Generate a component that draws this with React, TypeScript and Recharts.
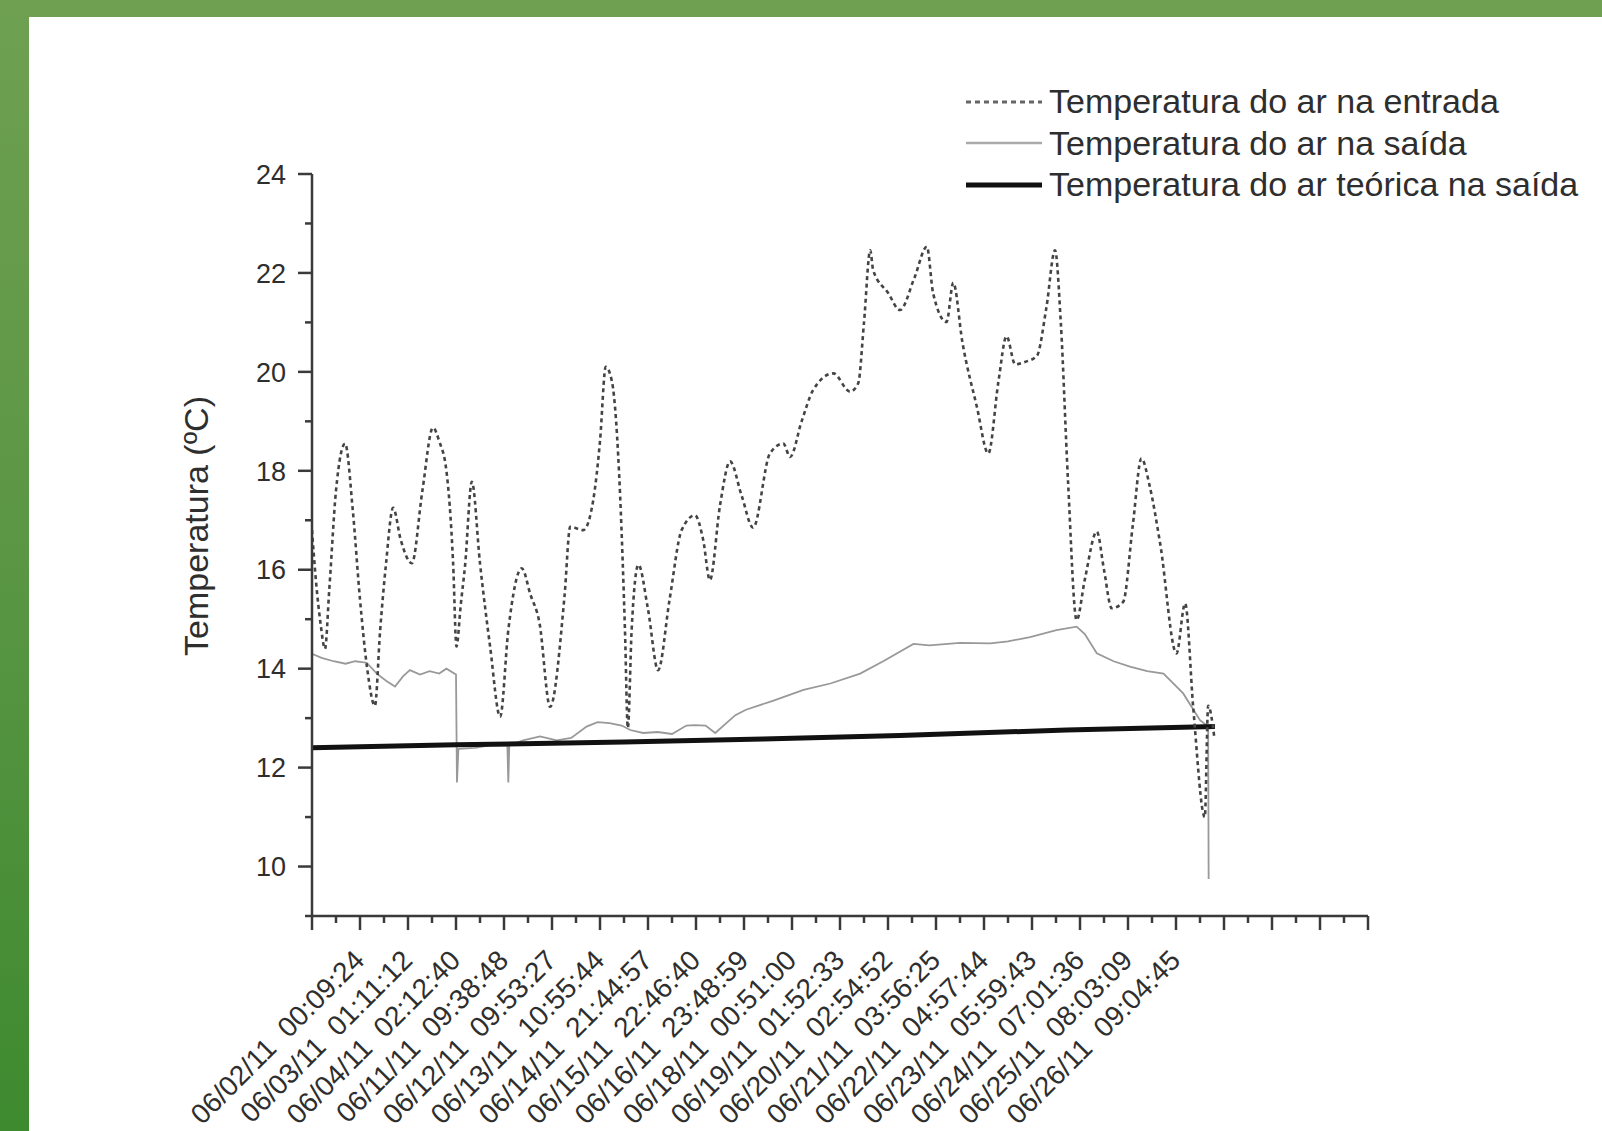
import React from "react"
import { LineChart, Line, XAxis, YAxis, Legend } from "recharts"

// sample position on the x axis (one unit = one labelled tick) and temperature in ºC
const entradaX = [
  0, 0.08, 0.18, 0.27, 0.36, 0.5, 0.69, 0.85, 1.0, 1.15, 1.31, 1.42, 1.54, 1.69, 1.85, 2.08, 2.3, 2.52, 2.65,
  2.8, 2.94, 3.01, 3.1, 3.19, 3.33, 3.5, 3.71, 3.92, 4.09, 4.37, 4.55, 4.74, 4.96, 5.26, 5.38, 5.65, 5.86, 6.0,
  6.12, 6.25, 6.42, 6.52, 6.58, 6.66, 6.8, 7.0, 7.21, 7.45, 7.7, 7.98, 8.15, 8.29, 8.5, 8.71, 8.95, 9.19, 9.54,
  9.82, 9.96, 10.2, 10.44, 10.86, 11.21, 11.38, 11.5, 11.63, 11.69, 12.0, 12.25, 12.55, 12.81, 12.94, 13.22,
  13.36, 13.55, 13.85, 14.09, 14.3, 14.47, 14.65, 14.85, 15.1, 15.3, 15.48, 15.6, 15.75, 15.93, 16.1, 16.35,
  16.5, 16.66, 16.9, 17.1, 17.28, 17.45, 17.67, 18.01, 18.19, 18.36, 18.6, 18.67, 18.8,
]
const entradaT = [
  16.8, 15.8, 14.9, 14.4, 15.6, 17.6, 18.55, 17.2, 15.4, 14.0, 13.25, 14.78, 16.1, 17.25, 16.6, 16.13, 17.6,
  18.87, 18.6, 18.0, 16.13, 14.45, 15.3, 16.1, 17.78, 16.13, 14.45, 13.03, 14.78, 16.03, 15.5, 14.92, 13.23,
  15.46, 16.87, 16.8, 17.41, 18.6, 20.1, 19.8, 17.48, 14.78, 12.8, 14.8, 16.1, 15.2, 13.97, 15.4, 16.8, 17.1,
  16.6, 15.79, 17.3, 18.19, 17.5, 16.85, 18.35, 18.55, 18.28, 19.0, 19.63, 19.97, 19.6, 19.77, 21.0, 22.46,
  22.06, 21.6, 21.25, 21.9, 22.53, 21.59, 21.01, 21.8, 20.6, 19.3, 18.35, 19.8, 20.72, 20.15, 20.2, 20.32,
  21.3, 22.46, 21.0, 17.8, 14.98, 15.8, 16.77, 16.0, 15.22, 15.35, 16.9, 18.25, 17.7, 16.53, 14.31, 15.32,
  13.2, 11.0, 13.25, 12.6,
]

const saidaX = [
  0, 0.2, 0.45, 0.7, 0.9, 1.14, 1.35, 1.55, 1.73, 1.9, 2.04, 2.25, 2.45, 2.65, 2.8, 3.0, 3.02, 3.05, 3.4, 3.7,
  4.07, 4.09, 4.11, 4.4, 4.75, 5.1, 5.4, 5.72, 5.95, 6.2, 6.45, 6.63, 6.9, 7.2, 7.5, 7.8, 7.97, 8.2, 8.4, 8.82,
  9.04, 9.6, 10.24, 10.8, 11.42, 11.9, 12.53, 12.86, 13.5, 14.13, 14.5, 14.96, 15.51, 15.93, 16.1, 16.35,
  16.7, 17.04, 17.4, 17.74, 18.15, 18.5, 18.67, 18.68,
]
const saidaT = [
  14.3, 14.22, 14.15, 14.1, 14.15, 14.12, 13.9, 13.75, 13.64, 13.85, 13.97, 13.88, 13.95, 13.9, 14.0, 13.88,
  11.7, 12.38, 12.4, 12.45, 12.45, 11.7, 12.45, 12.55, 12.63, 12.55, 12.6, 12.83, 12.92, 12.9, 12.85, 12.76,
  12.7, 12.72, 12.68, 12.85, 12.86, 12.85, 12.7, 13.06, 13.17, 13.35, 13.57, 13.7, 13.9, 14.15, 14.5, 14.47,
  14.52, 14.51, 14.55, 14.64, 14.78, 14.85, 14.7, 14.31, 14.15, 14.04, 13.95, 13.9, 13.5, 12.96, 12.83, 9.75,
]

const teoricaX = [0, 3.0, 6.5, 9.4, 12.25, 15.72, 18.81]
const teoricaT = [12.4, 12.46, 12.52, 12.58, 12.65, 12.76, 12.83]

const xDates = [
  "06/02/11", "06/03/11", "06/04/11", "06/11/11", "06/12/11", "06/13/11", "06/14/11", "06/15/11", "06/16/11",
  "06/18/11", "06/19/11", "06/20/11", "06/21/11", "06/22/11", "06/23/11", "06/24/11", "06/25/11", "06/26/11",
]
const xTimes = [
  "00:09:24", "01:11:12", "02:12:40", "09:38:48", "09:53:27", "10:55:44", "21:44:57", "22:46:40", "23:48:59",
  "00:51:00", "01:52:33", "02:54:52", "03:56:25", "04:57:44", "05:59:43", "07:01:36", "08:03:09", "09:04:45",
]
const xTicks = Array.from({ length: 45 }, (_, i) => i / 2)
const yTicks = [9, 10, 11, 12, 13, 14, 15, 16, 17, 18, 19, 20, 21, 22, 23, 24]

const seriesNames = [
  "Temperatura do ar na entrada",
  "Temperatura do ar na saída",
  "Temperatura do ar teórica na saída",
]

const toPoints = (xs: number[], ts: number[]) => xs.map((x, i) => ({ x, t: ts[i] }))
const entradaData = toPoints(entradaX, entradaT)
const saidaData = toPoints(saidaX, saidaT)
const teoricaData = toPoints(teoricaX, teoricaT)

const FONT = '"Liberation Sans", Arial, Helvetica, sans-serif'
const INK = "#2e2e2e"
const AXIS = "#3a3a3a"

function XTick({ x, y, payload }: any) {
  const v = payload.value as number
  const major = Number.isInteger(v)
  const i = v - 1
  const ax = x + 6
  const ay = y + 46
  return (
    <g>
      <line x1={x} y1={y} x2={x} y2={y + (major ? 14 : 7)} stroke={AXIS} strokeWidth={2.5} />
      {major && i >= 0 && i < xDates.length && (
        <text
          x={ax}
          y={ay}
          transform={`rotate(-45 ${ax} ${ay})`}
          textAnchor="end"
          fontSize={28}
          fontFamily={FONT}
          fill={INK}
        >
          {`${xDates[i]}\u00a0\u00a0${xTimes[i]}`}
        </text>
      )}
    </g>
  )
}

function YTick({ x, y, payload }: any) {
  const v = payload.value as number
  const major = v % 2 === 0
  return (
    <g>
      <line x1={x} y1={y} x2={x - (major ? 14 : 7)} y2={y} stroke={AXIS} strokeWidth={2.5} />
      {major && (
        <text x={x - 26} y={y} dy="0.36em" textAnchor="end" fontSize={27} fontFamily={FONT} fill={INK}>
          {v}
        </text>
      )}
    </g>
  )
}

function YTitle({ viewBox }: any) {
  const cx = viewBox.x - 56
  const cy = viewBox.y + 352
  return (
    <text
      x={cx}
      y={cy}
      transform={`rotate(-90 ${cx} ${cy})`}
      textAnchor="middle"
      dominantBaseline="central"
      fontSize={34}
      fontFamily={FONT}
      fill={INK}
    >
      Temperatura (ºC)
    </text>
  )
}

function LegendBox() {
  const samples = [
    <line x1={0} y1={10} x2={76} y2={10} stroke="#666" strokeWidth={3} strokeDasharray="5 4" />,
    <line x1={0} y1={10} x2={76} y2={10} stroke="#aaa" strokeWidth={2.5} />,
    <line x1={0} y1={10} x2={76} y2={10} stroke="#111" strokeWidth={5} />,
  ]
  return (
    <div style={{ fontFamily: FONT, fontSize: 34, color: INK }}>
      {seriesNames.map((name, i) => (
        <div key={name} style={{ display: "flex", alignItems: "center", height: 41.5, whiteSpace: "nowrap" }}>
          <svg width={76} height={20} style={{ marginRight: 7 }}>
            {samples[i]}
          </svg>
          <span>{name}</span>
        </div>
      ))}
    </div>
  )
}

export default function App() {
  return (
    <div
      style={{
        position: "absolute",
        left: 0,
        top: 0,
        width: 1602,
        height: 1131,
        overflow: "hidden",
        background: "linear-gradient(180deg, #6fa052 0%, #5a9644 50%, #3e8a2f 100%)",
      }}
    >
      <div style={{ position: "absolute", left: 29, top: 17, right: 0, bottom: 0, background: "#fff" }} />
      <div style={{ position: "absolute", left: 0, top: 0 }}>
        <LineChart width={1602} height={1131} margin={{ top: 174, right: 234, bottom: 185, left: 252 }}>
          <XAxis
            type="number"
            dataKey="x"
            domain={[0, 22]}
            ticks={xTicks}
            interval={0}
            tickSize={0}
            tickMargin={0}
            tickLine={false}
            tick={<XTick />}
            height={30}
            axisLine={{ stroke: AXIS, strokeWidth: 2.5 }}
            allowDataOverflow
          />
          <YAxis
            type="number"
            domain={[9, 24]}
            ticks={yTicks}
            interval={0}
            tickSize={0}
            tickMargin={0}
            tickLine={false}
            tick={<YTick />}
            width={60}
            axisLine={{ stroke: AXIS, strokeWidth: 2.5 }}
            label={<YTitle />}
            allowDataOverflow
          />
          <Legend
            layout="vertical"
            align="center"
            verticalAlign="middle"
            content={<LegendBox />}
            wrapperStyle={{ top: 81, left: 966, width: "auto" }}
          />
          <Line
            data={saidaData}
            dataKey="t"
            name={seriesNames[1]}
            type="linear"
            stroke="#999"
            strokeWidth={1.8}
            dot={false}
            isAnimationActive={false}
          />
          <Line
            data={teoricaData}
            dataKey="t"
            name={seriesNames[2]}
            type="linear"
            stroke="#111"
            strokeWidth={5}
            dot={false}
            isAnimationActive={false}
          />
          <Line
            data={entradaData}
            dataKey="t"
            name={seriesNames[0]}
            type="monotone"
            stroke="#444"
            strokeWidth={2.6}
            strokeDasharray="4 3.5"
            dot={false}
            isAnimationActive={false}
          />
        </LineChart>
      </div>
    </div>
  )
}
